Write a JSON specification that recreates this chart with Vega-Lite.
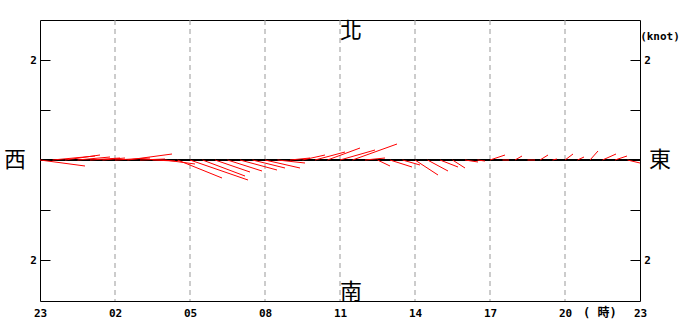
{
  "$schema": "https://vega.github.io/schema/vega-lite/v6.json",
  "width": 600,
  "height": 281,
  "autosize": {"type": "none"},
  "padding": {"left": 40, "top": 20, "right": 40, "bottom": 21},
  "background": "white",
  "config": {
    "view": {"stroke": "black", "strokeWidth": 1},
    "axis": {"labelFont": "DejaVu Sans Mono", "labelFontWeight": "bold", "labelFontSize": 11, "labelColor": "black"}
  },
  "datasets": {
    "sticks": [
      {"t": 0, "t2": 1.8, "v": -0.12},
      {"t": 0.5, "t2": 2.2, "v": 0.08},
      {"t": 1, "t2": 2.4, "v": 0.1},
      {"t": 1.5, "t2": 2.8, "v": 0.06},
      {"t": 2, "t2": 3.2, "v": 0.04},
      {"t": 2.5, "t2": 3.4, "v": 0.04},
      {"t": 3, "t2": 4.4, "v": 0.04},
      {"t": 3.5, "t2": 5.28, "v": 0.12},
      {"t": 4, "t2": 5.0, "v": 0.02},
      {"t": 4.5, "t2": 5.4, "v": -0.02},
      {"t": 5, "t2": 6.2, "v": -0.08},
      {"t": 5.5, "t2": 7.28, "v": -0.36},
      {"t": 6, "t2": 8.32, "v": -0.4},
      {"t": 6.5, "t2": 8.2, "v": -0.32},
      {"t": 7, "t2": 8.4, "v": -0.24},
      {"t": 7.5, "t2": 8.88, "v": -0.22},
      {"t": 8, "t2": 9.48, "v": -0.2},
      {"t": 8.5, "t2": 9.8, "v": -0.16},
      {"t": 9, "t2": 10.4, "v": -0.16},
      {"t": 9.5, "t2": 10.6, "v": -0.06},
      {"t": 10, "t2": 10.8, "v": 0.04},
      {"t": 10.5, "t2": 11.4, "v": 0.1},
      {"t": 11, "t2": 12.2, "v": 0.16},
      {"t": 11.5, "t2": 12.8, "v": 0.24},
      {"t": 12, "t2": 13.4, "v": 0.2},
      {"t": 12.5, "t2": 14.28, "v": 0.32},
      {"t": 13, "t2": 13.8, "v": 0.04},
      {"t": 13.5, "t2": 14.0, "v": -0.12},
      {"t": 14, "t2": 14.88, "v": -0.14},
      {"t": 14.5, "t2": 15.2, "v": -0.1},
      {"t": 15, "t2": 15.92, "v": -0.3},
      {"t": 15.5, "t2": 16.32, "v": -0.22},
      {"t": 16, "t2": 16.72, "v": -0.14},
      {"t": 16.5, "t2": 17.0, "v": -0.16},
      {"t": 17, "t2": 17.52, "v": -0.04},
      {"t": 17.5, "t2": 17.8, "v": -0.02},
      {"t": 18, "t2": 18.6, "v": 0.1},
      {"t": 18.5, "t2": 18.76, "v": 0},
      {"t": 19, "t2": 19.28, "v": 0.08},
      {"t": 19.5, "t2": 19.8, "v": 0},
      {"t": 20, "t2": 20.32, "v": 0.1},
      {"t": 20.5, "t2": 20.68, "v": 0.02},
      {"t": 21, "t2": 21.32, "v": 0.12},
      {"t": 21.5, "t2": 21.76, "v": 0.06},
      {"t": 22, "t2": 22.32, "v": 0.18},
      {"t": 22.5, "t2": 23.04, "v": 0.12},
      {"t": 23, "t2": 23.48, "v": 0.08},
      {"t": 23.5, "t2": 24, "v": -0.06}
    ],
    "grid": [{"g": 3}, {"g": 6}, {"g": 9}, {"g": 12}, {"g": 15}, {"g": 18}, {"g": 21}]
  },
  "resolve": {"axis": {"y": "independent"}},
  "layer": [
    {
      "data": {"name": "grid"},
      "mark": {"type": "rule", "color": "#999999", "strokeDash": [5, 4], "strokeWidth": 1},
      "encoding": {
        "x": {"field": "g", "type": "quantitative", "title": null, "scale": {"domain": [0, 24], "nice": false, "zero": false}, "axis": {"orient": "bottom", "values": [0, 3, 6, 9, 12, 15, 18, 21, 24], "labelExpr": "pad(toString((datum.value + 23) % 24), 2, '0', 'left')", "ticks": false, "domain": false, "grid": false, "labelPadding": 6, "labelFlush": false}}
      }
    },
    {
      "data": {"name": "sticks"},
      "mark": {"type": "rule", "color": "black", "strokeWidth": 1},
      "encoding": {
        "y": {"datum": 0, "type": "quantitative", "title": null, "scale": {"domain": [-2.82, 2.8], "nice": false, "zero": false}, "axis": {"orient": "right", "values": [-2, -1, 1, 2], "labelExpr": "abs(datum.value) == 2 ? '2' : ''", "tickSize": -10, "tickColor": "black", "domain": false, "labelPadding": 17, "labelAlign": "center"}}
      }
    },
    {
      "data": {"name": "sticks"},
      "mark": {"type": "rule", "color": "#ff0000", "strokeWidth": 1},
      "encoding": {
        "x": {"field": "t2", "type": "quantitative", "title": null},
        "x2": {"field": "t"},
        "y": {"field": "v", "type": "quantitative", "title": null, "axis": {"orient": "left", "values": [-2, -1, 1, 2], "labelExpr": "abs(datum.value) == 2 ? '2' : ''", "tickSize": -10, "tickColor": "black", "domain": false, "labelPadding": 17, "labelAlign": "center"}},
        "y2": {"datum": 0}
      }
    },
    {
      "data": {"values": [{}]},
      "mark": {"type": "text", "text": "北", "font": "Noto Sans CJK TC", "fontSize": 22, "color": "black", "baseline": "middle"},
      "encoding": {"x": {"datum": 12.44, "type": "quantitative"}, "y": {"datum": 2.58, "type": "quantitative", "axis": null}}
    },
    {
      "data": {"values": [{}]},
      "mark": {"type": "text", "text": "南", "font": "Noto Sans CJK TC", "fontSize": 22, "color": "black", "baseline": "middle"},
      "encoding": {"x": {"datum": 12.44, "type": "quantitative"}, "y": {"datum": -2.64, "type": "quantitative", "axis": null}}
    },
    {
      "data": {"values": [{}]},
      "mark": {"type": "text", "text": "西", "font": "Noto Sans CJK TC", "fontSize": 22, "color": "black", "baseline": "middle"},
      "encoding": {"x": {"datum": -1.0, "type": "quantitative"}, "y": {"datum": 0, "type": "quantitative", "axis": null}}
    },
    {
      "data": {"values": [{}]},
      "mark": {"type": "text", "text": "東", "font": "Noto Sans CJK TC", "fontSize": 22, "color": "black", "baseline": "middle"},
      "encoding": {"x": {"datum": 24.8, "type": "quantitative"}, "y": {"datum": 0, "type": "quantitative", "axis": null}}
    },
    {
      "data": {"values": [{}]},
      "mark": {"type": "text", "text": "(knot)", "font": "DejaVu Sans Mono", "fontWeight": "bold", "fontSize": 11, "color": "black", "baseline": "middle"},
      "encoding": {"x": {"datum": 24.8, "type": "quantitative"}, "y": {"datum": 2.46, "type": "quantitative", "axis": null}}
    },
    {
      "data": {"values": [{}]},
      "mark": {"type": "text", "text": "(  時)", "font": "DejaVu Sans Mono, Noto Sans CJK TC", "fontWeight": "bold", "fontSize": 12, "color": "black", "baseline": "middle", "align": "left"},
      "encoding": {"x": {"datum": 21.72, "type": "quantitative"}, "y": {"datum": -3.06, "type": "quantitative", "axis": null}}
    }
  ]
}
